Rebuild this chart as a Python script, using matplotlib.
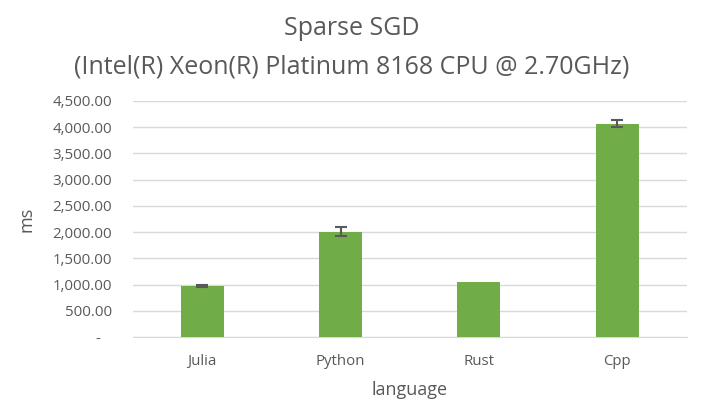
import matplotlib
matplotlib.use("Agg")
import matplotlib.pyplot as plt
from matplotlib.ticker import FuncFormatter

categories = ["Julia", "Python", "Rust", "Cpp"]
values = [975, 2010, 1050, 4065]
errors = [25, 85, 0, 70]
yticks = [0, 500, 1000, 1500, 2000, 2500, 3000, 3500, 4000, 4500]

plt.rcParams['font.family'] = ['Open Sans', 'DejaVu Sans']
txt = '#595959'

fig = plt.figure(figsize=(7.03, 4.20), dpi=100)
ax = fig.add_axes([133/703, 1-337/420, (686.5-133)/703, (337-101)/420])

x = list(range(len(categories)))
ax.bar(x, values, width=0.31, color='#70AD47', zorder=3)
ex = [xi for xi, e in zip(x, errors) if e > 0]
ev = [v for v, e in zip(values, errors) if e > 0]
ee = [e for e in errors if e > 0]
ax.errorbar(ex, ev, yerr=ee, fmt='none', ecolor='#595959', elinewidth=1.5,
            capsize=4, capthick=1.5, zorder=4)

ax.set_xlim(-0.5, len(categories) - 0.5)
ax.set_ylim(0, 4500)
ax.set_yticks(yticks)
ax.yaxis.set_major_formatter(FuncFormatter(lambda v, p: '-   ' if v == 0 else f'{v:,.2f}'))
ax.set_xticks(x)
ax.set_xticklabels(categories)
ax.grid(axis='y', color='#D9D9D9', linewidth=1, zorder=0)
for s in ['top', 'right', 'left']:
    ax.spines[s].set_visible(False)
ax.spines['bottom'].set_color('#D9D9D9')
ax.tick_params(axis='both', length=0, colors=txt, labelsize=10.8)
ax.tick_params(axis='y', pad=15)
ax.tick_params(axis='x', pad=12)

ax.set_xlabel('language', color=txt, fontsize=13, labelpad=9)
ax.set_ylabel('ms', color=txt, fontsize=13, labelpad=12)
fig.text(0.5, 1-35/420, 'Sparse SGD', ha='center', va='baseline', color=txt, fontsize=18)
fig.text(0.5, 1-73/420, '(Intel(R) Xeon(R) Platinum 8168 CPU @ 2.70GHz)', ha='center', va='baseline', color=txt, fontsize=18)

fig.savefig('out.png', dpi=100, facecolor='white')
